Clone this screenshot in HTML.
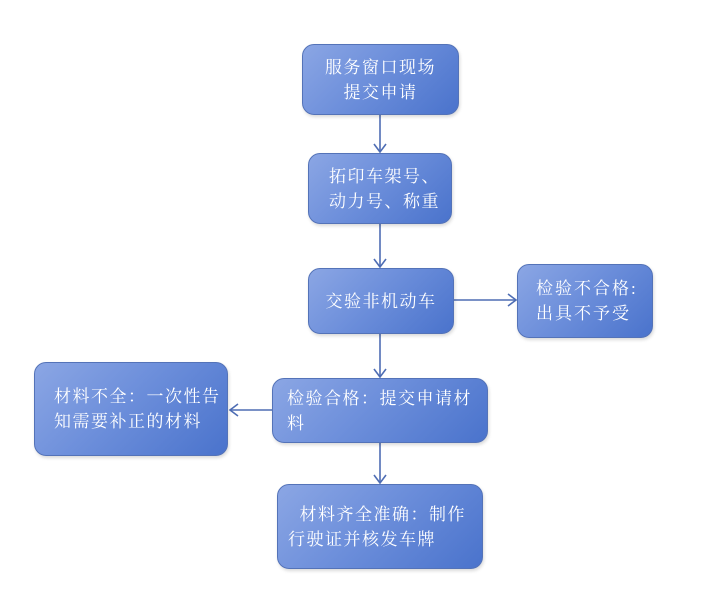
<!DOCTYPE html>
<html><head><meta charset="utf-8"><style>
body{margin:0;width:710px;height:594px;background:#fff;position:relative;overflow:hidden;font-family:"Liberation Serif","Noto Serif CJK SC",serif;}
.b{position:absolute;box-sizing:border-box;border:1.5px solid #5473b8;border-radius:12px;background:linear-gradient(135deg,#8ba6e4 0%,#6d8fdb 45%,#4a73cc 100%);color:#fff;font-size:17px;letter-spacing:1.5px;line-height:25px;display:flex;align-items:center;box-shadow:1px 2px 3px rgba(0,0,0,0.15);}
.c{justify-content:center;text-align:center}
.l{padding-left:17px;}
svg{position:absolute;left:0;top:0}
</style></head><body>
<svg width="710" height="594">
<g stroke="#4e6db4" stroke-width="1.6" fill="none">
<line x1="380" y1="115" x2="380" y2="152"/><polyline points="374,144 380,152 386,144"/>
<line x1="380" y1="224" x2="380" y2="267"/><polyline points="374,259 380,267 386,259"/>
<line x1="454" y1="300" x2="516" y2="300"/><polyline points="508,294 516,300 508,306"/>
<line x1="380" y1="334" x2="380" y2="377"/><polyline points="374,369 380,377 386,369"/>
<line x1="272" y1="410" x2="230" y2="410"/><polyline points="238,404 230,410 238,416"/>
<line x1="380" y1="443" x2="380" y2="483"/><polyline points="374,475 380,483 386,475"/>
</g></svg>
<div class="b c" style="left:302px;top:44px;width:157px;height:71px">服务窗口现场<br>提交申请</div>
<div class="b c" style="left:308px;top:153px;width:144px;height:71px;justify-content:flex-start;padding-left:20px;text-align:left">拓印车架号、<br>动力号、称重</div>
<div class="b c" style="left:308px;top:268px;width:146px;height:66px">交验非机动车</div>
<div class="b l" style="left:517px;top:264px;width:136px;height:74px;padding-left:18px;letter-spacing:2px">检验不合格:<br>出具不予受</div>
<div class="b l" style="left:34px;top:362px;width:194px;height:94px;padding-left:19px">材料不全：一次性告<br>知需要补正的材料</div>
<div class="b l" style="left:272px;top:378px;width:216px;height:65px;padding-left:14px">检验合格：提交申请材<br>料</div>
<div class="b l" style="left:277px;top:484px;width:206px;height:85px;padding-left:10px">&nbsp;&nbsp;材料齐全准确：制作<br>行驶证并核发车牌</div>
</body></html>
